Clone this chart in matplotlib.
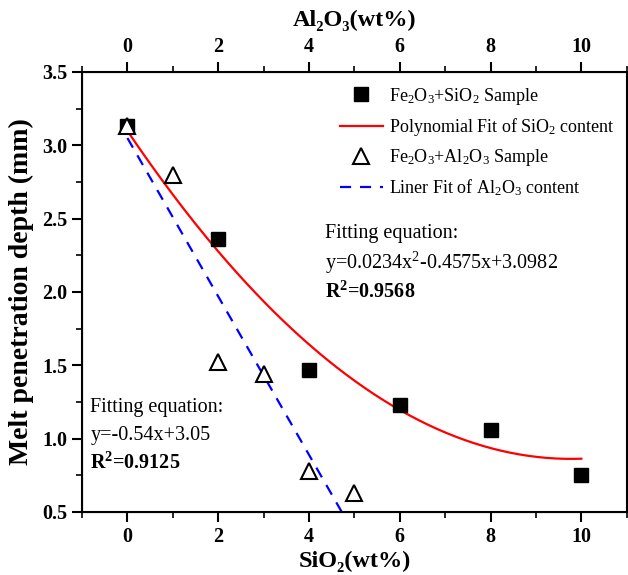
import matplotlib
matplotlib.use("Agg")
import matplotlib.pyplot as plt
import numpy as np
from matplotlib.ticker import MultipleLocator

plt.rcParams['font.family'] = ['Liberation Serif', 'DejaVu Serif']
plt.rcParams['mathtext.fontset'] = 'custom'
plt.rcParams['mathtext.rm'] = 'Liberation Serif'
plt.rcParams['mathtext.it'] = 'Liberation Serif:italic'
plt.rcParams['mathtext.bf'] = 'Liberation Serif:bold'

# Data
sio2_x = [0, 2, 4, 6, 8, 10]
sio2_y = [3.13, 2.36, 1.47, 1.23, 1.06, 0.75]
al2o3_x = [0, 1, 2, 3, 4, 5]
al2o3_y = [3.13, 2.80, 1.52, 1.44, 0.78, 0.63]

poly_coef = [0.0234, -0.4575, 3.0982]   # a x^2 + b x + c
lin_coef = [-0.54, 3.05]                # m x + k

fig = plt.figure(figsize=(6.28, 5.75), dpi=100)
ax = fig.add_axes([0.1306, 0.1096, 0.8674, 0.7652])

xf = np.linspace(0, 10, 200)
yf = np.polyval(poly_coef, xf)
xl = np.linspace(0, 5, 100)
yl = np.polyval(lin_coef, xl)

h1, = ax.plot(sio2_x, sio2_y, 's', color='black', markersize=9.5, linestyle='none',
              label=r'Fe$_2$O$_3$+SiO$_2$ Sample', zorder=3)
h2, = ax.plot(xf, yf, '-', color='red', lw=1.6, label=r'Polynomial Fit of SiO$_2$ content', zorder=2)
h3, = ax.plot(al2o3_x, al2o3_y, '^', markerfacecolor='white', markeredgecolor='black',
              markeredgewidth=1.5, markersize=11, linestyle='none',
              label=r'Fe$_2$O$_3$+Al$_2$O$_3$ Sample', zorder=4)
h4, = ax.plot(xl, yl, '--', color='blue', lw=1.6, dashes=(5, 4),
              label=r'Liner Fit of Al$_2$O$_3$ content', zorder=2)

ax.set_xlim(-1, 11)
ax.set_ylim(0.5, 3.5)
ax.xaxis.set_major_locator(MultipleLocator(2))
ax.xaxis.set_minor_locator(MultipleLocator(1))
ax.yaxis.set_major_locator(MultipleLocator(0.5))
ax.yaxis.set_minor_locator(MultipleLocator(0.25))
ax.yaxis.set_major_formatter(matplotlib.ticker.FormatStrFormatter('%.1f'))

for s in ax.spines.values():
    s.set_linewidth(1.5)
ax.tick_params(which='major', direction='out', length=7, width=1.5, labelsize=14.5, top=False, right=False)
ax.tick_params(which='minor', direction='out', length=4, width=1.2, top=False, right=False)
for lab in ax.get_xticklabels() + ax.get_yticklabels():
    lab.set_fontweight('bold')

ax.set_xlabel('SiO₂(wt%)', fontsize=17.5, fontweight='bold', labelpad=3)
ax.set_ylabel('Melt penetration depth (mm)', fontsize=20, fontweight='bold', labelpad=6)

ax2 = ax.twiny()
ax2.set_xlim(-1, 11)
ax2.xaxis.set_major_locator(MultipleLocator(2))
ax2.xaxis.set_minor_locator(MultipleLocator(1))
ax2.tick_params(which='major', direction='out', length=7, width=1.5, labelsize=14.5)
ax2.tick_params(which='minor', direction='out', length=4, width=1.2)
for lab in ax2.get_xticklabels():
    lab.set_fontweight('bold')
ax2.set_xlabel('Al₂O₃(wt%)', fontsize=17.5, fontweight='bold', labelpad=8)

leg = ax.legend(handles=[h1, h2, h3, h4], loc='upper left', bbox_to_anchor=(0.46, 0.985),
                frameon=False, fontsize=13, handlelength=2.4, handletextpad=0.3,
                labelspacing=0.5, borderaxespad=0)

ax.text(4.35, 2.40, 'Fitting equation:', fontsize=14.5, va='center')
ax.text(4.35, 2.20, r'y=0.0234x$^2$-0.4575x+3.0982', fontsize=14.5, va='center')
ax.text(4.35, 2.00, r'R$^\mathbf{2}$=0.9568', fontsize=14.5, va='center', fontweight='bold')

ax.text(-0.82, 1.21, 'Fitting equation:', fontsize=14.5, va='center')
ax.text(-0.82, 1.02, 'y=-0.54x+3.05', fontsize=14.5, va='center')
ax.text(-0.82, 0.83, r'R$^\mathbf{2}$=0.9125', fontsize=14.5, va='center', fontweight='bold')

fig.savefig('out.png', dpi=100)
